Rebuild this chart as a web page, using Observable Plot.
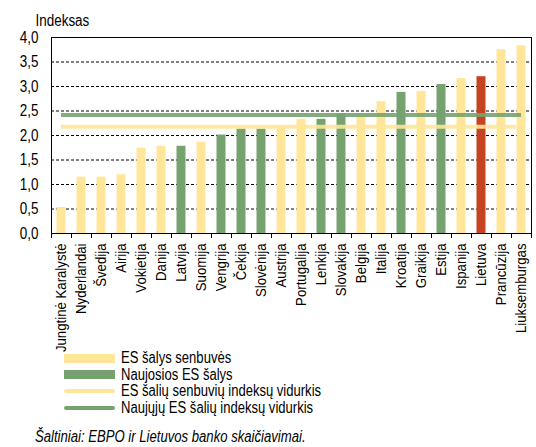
<!DOCTYPE html>
<html><head><meta charset="utf-8">
<script src="https://cdn.jsdelivr.net/npm/d3@7"></script>
<script src="https://cdn.jsdelivr.net/npm/@observablehq/plot@0.6"></script>
<style>
body{margin:0;background:#fff;font-family:"Liberation Sans",Arial,sans-serif;color:#000;}
#wrap{position:relative;width:536px;height:447px;overflow:hidden;}
#chart{position:absolute;left:0;top:0;}
.legend{position:absolute;left:64px;top:350px;font-size:16px;}
.row{display:flex;align-items:center;height:16.6px;}
.sw{width:51px;margin-right:6px;display:flex;align-items:center;height:16px;flex:none;}
.sw span{display:block;width:100%;}
.lab{white-space:nowrap;transform:scaleX(0.815);transform-origin:left center;line-height:16px;}
.caption{position:absolute;left:35px;top:428px;font-style:italic;font-size:16px;line-height:18px;white-space:nowrap;transform:scaleX(0.82);transform-origin:left center;}
</style></head>
<body>
<div id="wrap">
<div id="chart"></div>
<div class="legend" id="legend"></div>
<div class="caption">Šaltiniai: EBPO ir Lietuvos banko skaičiavimai.</div>
</div>
<script>
const countries = ["Jungtinė Karalystė","Nyderlandai","Švedija","Airija","Vokietija","Danija","Latvija","Suomija","Vengrija","Čekija","Slovėnija","Austrija","Portugalija","Lenkija","Slovakija","Belgija","Italija","Kroatija","Graikija","Estija","Ispanija","Lietuva","Prancūzija","Liuksemburgas"];
const values = [0.53,1.15,1.15,1.20,1.74,1.78,1.78,1.86,2.01,2.13,2.13,2.18,2.33,2.33,2.44,2.40,2.69,2.88,2.90,3.04,3.16,3.20,3.75,3.83];
const groups = ["old","old","old","old","old","old","new","old","new","new","new","old","old","new","new","old","old","new","old","new","old","lt","old","old"];
const avgOld = 2.18;
const avgNew = 2.42;
const yTicks = [0,0.5,1,1.5,2,2.5,3,3.5,4];
const legendLabels = ["ES šalys senbuvės","Naujosios ES šalys","ES šalių senbuvių indeksų vidurkis","Naujųjų ES šalių indeksų vidurkis"];

const colors = {old:"#FFE699", new:"#76A270", lt:"#C64322"};
const n = countries.length;
const data = countries.map((c,i)=>({c, i, v: values[i], fill: colors[groups[i]]}));
const fmt = d => d.toFixed(1).replace(".", ",");
const ff = '"Liberation Sans",Arial,sans-serif';

const chart = Plot.plot({
  width:536, height:355,
  marginTop:37, marginBottom:122, marginLeft:51, marginRight:5,
  x:{type:"linear", domain:[0,n], label:null},
  y:{domain:[0,4], label:null},
  style:{fontFamily:ff, fontSize:"15px", color:"#000", background:"#fff"},
  marks:[
    Plot.ruleY(yTicks.filter(d=>d>0 && d<4), {stroke:"#000", strokeDasharray:"3,2", strokeWidth:1}),
    Plot.rectY(data, {x1:"i", x2:d=>d.i+1, y1:0, y2:"v", fill:"fill", insetLeft:5.5, insetRight:5.5}),
    Plot.ruleY([avgOld], {x1:0.5, x2:n-0.75, stroke:colors.old, strokeWidth:4, strokeOpacity:0.9}),
    Plot.ruleY([avgNew], {x1:0.5, x2:n-0.5, stroke:colors.new, strokeWidth:4, strokeOpacity:0.9}),
    Plot.frame({stroke:"#000", strokeWidth:1}),
    Plot.axisY(yTicks, {tickSize:0, tickPadding:13, tickFormat:fmt, fontSize:16}),
    Plot.axisX(d3.range(n+1), {tickSize:5, tickFormat:()=>"", stroke:"#000"}),
    Plot.axisX(d3.range(n).map(i=>i+0.5), {tickSize:0, tickPadding:10, tickRotate:-90, tickFormat:d=>countries[Math.floor(d)], fontSize:15}),
    Plot.text(["Indeksas"], {text:d=>d, frameAnchor:"top-left", dx:-16, dy:-17, textAnchor:"start", lineAnchor:"middle", fontSize:16})
  ]
});
document.getElementById("chart").appendChild(chart);
// condense text horizontally (narrow typeface look)
chart.querySelectorAll("text").forEach(t => {
  const L = t.getComputedTextLength();
  const fs = parseFloat(getComputedStyle(t).fontSize);
  const k = fs >= 16 ? 0.84 : 0.88;
  if (L > 0) { t.setAttribute("textLength", (L*k).toFixed(2)); t.setAttribute("lengthAdjust", "spacingAndGlyphs"); }
});

const legendStyles = [
  {c:colors.old, h:9, r:0},
  {c:colors.new, h:9, r:0},
  {c:colors.old, h:4, r:2},
  {c:colors.new, h:4, r:2}
];
const leg = document.getElementById("legend");
legendLabels.forEach((t,i)=>{
  const row = document.createElement("div"); row.className="row";
  const sw = document.createElement("div"); sw.className="sw";
  const s = document.createElement("span");
  s.style.height = legendStyles[i].h+"px"; s.style.background = legendStyles[i].c; s.style.borderRadius = legendStyles[i].r+"px";
  sw.appendChild(s);
  const lab = document.createElement("div"); lab.className="lab"; lab.textContent = t;
  row.appendChild(sw); row.appendChild(lab);
  leg.appendChild(row);
});
</script>
</body></html>
